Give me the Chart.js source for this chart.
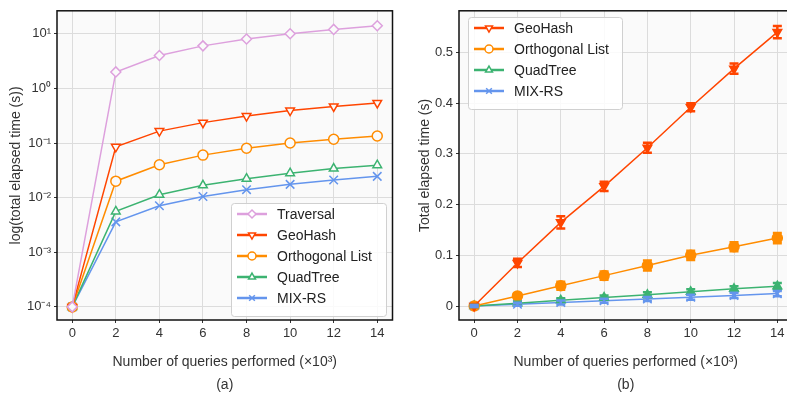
<!DOCTYPE html>
<html>
<head>
<meta charset="utf-8">
<script src="https://cdn.jsdelivr.net/npm/chart.js@4.4.1/dist/chart.umd.min.js"></script>
<style>
  html, body { margin: 0; padding: 0; background: #fff; overflow: hidden; }
  #wrap { position: relative; width: 787px; height: 396px; overflow: hidden; }
  #chartA { position: absolute; left: 0; top: 0; }
  #chartB { position: absolute; left: 400px; top: 0; }
</style>
</head>
<body>
<div id="wrap">
  <canvas id="chartA" width="400" height="396"></canvas>
  <canvas id="chartB" width="400" height="396"></canvas>
</div>
<script>
// data (x in thousands of queries)
const queries = [0, 2, 4, 6, 8, 10, 12, 14];
const xTicks = [0, 2, 4, 6, 8, 10, 12, 14];
const logTicks = [1e-4, 1e-3, 1e-2, 1e-1, 1e0, 1e1];
const logTickLabels = ['10⁻⁴', '10⁻³', '10⁻²', '10⁻¹', '10⁰', '10¹'];
const linTicks = [0, 0.1, 0.2, 0.3, 0.4, 0.5];

const traversal  = [0.0001, 2, 4, 6, 8, 10, 12, 14];
const geoHash    = [0.0001, 0.085, 0.165, 0.236, 0.312, 0.392, 0.468, 0.54];
const orthogonal = [0.0001, 0.02, 0.04, 0.06, 0.08, 0.1, 0.117, 0.134];
const quadTree   = [0.0001, 0.0056, 0.0113, 0.0168, 0.0222, 0.028, 0.034, 0.0392];
const mixRS      = [0.0001, 0.0036, 0.0071, 0.0105, 0.014, 0.0175, 0.021, 0.0245];

const geoHashErr    = [0.002, 0.008, 0.012, 0.009, 0.01, 0.008, 0.01, 0.012];
const orthogonalErr = [0.002, 0.005, 0.008, 0.008, 0.01, 0.009, 0.009, 0.01];
const quadTreeErr   = [0.002, 0.003, 0.004, 0.004, 0.005, 0.005, 0.005, 0.006];
const mixRSErr      = [0.002, 0.003, 0.004, 0.004, 0.004, 0.005, 0.005, 0.005];

const FONT = "'Liberation Sans', Arial, sans-serif";
const PLOT_BG = '#fafafa';

const series = [
  { label: 'Traversal', data: traversal, color: '#dda0dd', style: 'rectRot', rot: 0, err: null },
  { label: 'GeoHash', data: geoHash, color: '#ff4500', style: 'triangle', rot: 180, err: geoHashErr },
  { label: 'Orthogonal List', data: orthogonal, color: '#ff8c00', style: 'circle', rot: 0, err: orthogonalErr },
  { label: 'QuadTree', data: quadTree, color: '#3cb371', style: 'triangle', rot: 0, err: quadTreeErr },
  { label: 'MIX-RS', data: mixRS, color: '#6495ed', style: 'crossRot', rot: 0, err: mixRSErr }
];

function makeDataset(s, filled) {
  return {
    label: s.label,
    data: queries.map((q, i) => ({ x: q, y: s.data[i] })),
    borderColor: s.color,
    backgroundColor: filled ? s.color : PLOT_BG,
    borderWidth: 1.5,
    pointStyle: s.style,
    pointRotation: s.rot,
    pointRadius: s.style === 'crossRot' ? 6 : 5,
    pointBorderWidth: 1.5,
    errors: filled ? s.err : null
  };
}

// plot background + frame
const framePlugin = {
  id: 'frame',
  beforeDraw(chart) {
    const a = chart.chartArea, ctx = chart.ctx;
    ctx.save();
    ctx.fillStyle = PLOT_BG;
    ctx.fillRect(a.left, a.top, a.right - a.left, a.bottom - a.top);
    ctx.restore();
  },
  afterDraw(chart) {
    const a = chart.chartArea, ctx = chart.ctx;
    ctx.save();
    ctx.strokeStyle = '#111';
    ctx.lineWidth = 1.5;
    ctx.strokeRect(a.left, a.top, a.right - a.left, a.bottom - a.top);
    ctx.restore();
  }
};

// error bars, through the chart's scales
const errorBarPlugin = {
  id: 'errorBars',
  afterDatasetsDraw(chart) {
    const ctx = chart.ctx, xs = chart.scales.x, ys = chart.scales.y;
    chart.data.datasets.forEach(ds => {
      if (!ds.errors) return;
      ctx.save();
      ctx.strokeStyle = ds.borderColor;
      ctx.lineWidth = 2.5;
      ds.data.forEach((p, i) => {
        const e = ds.errors[i];
        const x = xs.getPixelForValue(p.x);
        const y1 = ys.getPixelForValue(p.y + e);
        const y2 = ys.getPixelForValue(p.y - e);
        ctx.beginPath();
        ctx.moveTo(x, y1); ctx.lineTo(x, y2);
        ctx.moveTo(x - 4.5, y1); ctx.lineTo(x + 4.5, y1);
        ctx.moveTo(x - 4.5, y2); ctx.lineTo(x + 4.5, y2);
        ctx.stroke();
      });
      ctx.restore();
    });
  }
};

// legend box drawn inside the plot area
const boxLegendPlugin = {
  id: 'boxLegend',
  afterDraw(chart, args, opts) {
    const ctx = chart.ctx;
    const rows = chart.data.datasets;
    const x0 = opts.x, y0 = opts.y, w = opts.w, rowH = 21;
    const h = rows.length * rowH + 8;
    ctx.save();
    ctx.fillStyle = 'rgba(255,255,255,0.85)';
    ctx.strokeStyle = '#d0d0d0';
    ctx.lineWidth = 1;
    ctx.beginPath();
    ctx.roundRect(x0 + 0.5, y0 + 0.5, w, h, 3);
    ctx.fill();
    ctx.stroke();
    rows.forEach((ds, i) => {
      const cy = y0 + 11 + i * rowH;
      ctx.strokeStyle = ds.borderColor;
      ctx.lineWidth = 2.5;
      ctx.beginPath();
      ctx.moveTo(x0 + 6, cy);
      ctx.lineTo(x0 + 36, cy);
      ctx.stroke();
      ctx.lineWidth = 1.5;
      ctx.fillStyle = '#ffffff';
      Chart.helpers.drawPoint(ctx, {
        pointStyle: ds.pointStyle, rotation: ds.pointRotation,
        radius: 4, borderWidth: 1.5
      }, x0 + 21, cy);
      ctx.fillStyle = '#222';
      ctx.font = '14px ' + FONT;
      ctx.textBaseline = 'middle';
      ctx.fillText(ds.label, x0 + 46, cy + 1);
    });
    ctx.restore();
  }
};

function xScale(caption) {
  return {
    type: 'linear',
    min: -0.7,
    max: 14.7,
    afterBuildTicks: s => { s.ticks = xTicks.map(v => ({ value: v })); },
    afterFit: s => { s.height = 76; },
    grid: { color: '#dcdcdc', lineWidth: 1, tickLength: 3, tickColor: '#333' },
    border: { display: false },
    ticks: { color: '#333', font: { family: FONT, size: 13 }, padding: 3, maxRotation: 0 },
    title: {
      display: true,
      text: ['Number of queries performed (×10³)', caption],
      color: '#333',
      font: { family: FONT, size: 14, lineHeight: 1.6 },
      padding: { top: 14, bottom: 0 }
    }
  };
}

new Chart(document.getElementById('chartA'), {
  type: 'line',
  data: { datasets: series.map(s => makeDataset(s, false)) },
  options: {
    responsive: false,
    animation: false,
    layout: { padding: { top: 9, right: 7, left: 0, bottom: 0 } },
    plugins: {
      legend: { display: false },
      tooltip: { enabled: false },
      boxLegend: { x: 231, y: 203, w: 155 }
    },
    scales: {
      x: xScale('(a)'),
      y: {
        type: 'logarithmic',
        min: Math.pow(10, -4.24),
        max: Math.pow(10, 1.42),
        afterBuildTicks: s => { s.ticks = logTicks.map(v => ({ value: v })); },
        afterFit: s => { s.width = 57; },
        grid: { color: '#dcdcdc', lineWidth: 1, tickLength: 3, tickColor: '#333' },
        border: { display: false },
        ticks: {
          color: '#333', font: { family: FONT, size: 13 }, padding: 3,
          callback: (v) => logTickLabels[logTicks.findIndex(t => Math.abs(Math.log10(t) - Math.log10(v)) < 1e-6)]
        },
        title: {
          display: true, text: 'log(total elapsed time (s))', color: '#333',
          font: { family: FONT, size: 14 }, padding: { top: 8, bottom: 0 }
        }
      }
    }
  },
  plugins: [framePlugin, boxLegendPlugin]
});

new Chart(document.getElementById('chartB'), {
  type: 'line',
  data: { datasets: series.slice(1).map(s => makeDataset(s, true)) },
  options: {
    responsive: false,
    animation: false,
    layout: { padding: { top: 9, right: 5, left: 0, bottom: 0 } },
    plugins: {
      legend: { display: false },
      tooltip: { enabled: false },
      boxLegend: { x: 68, y: 17, w: 154 }
    },
    scales: {
      x: xScale('(b)'),
      y: {
        type: 'linear',
        min: -0.0275,
        max: 0.582,
        afterBuildTicks: s => { s.ticks = linTicks.map(v => ({ value: v })); },
        afterFit: s => { s.width = 59; },
        grid: { color: '#dcdcdc', lineWidth: 1, tickLength: 3, tickColor: '#333' },
        border: { display: false },
        ticks: { color: '#333', font: { family: FONT, size: 13 }, padding: 3 },
        title: {
          display: true, text: 'Total elapsed time (s)', color: '#333',
          font: { family: FONT, size: 14 }, padding: { top: 17, bottom: 0 }
        }
      }
    }
  },
  plugins: [framePlugin, errorBarPlugin, boxLegendPlugin]
});
</script>
</body>
</html>
